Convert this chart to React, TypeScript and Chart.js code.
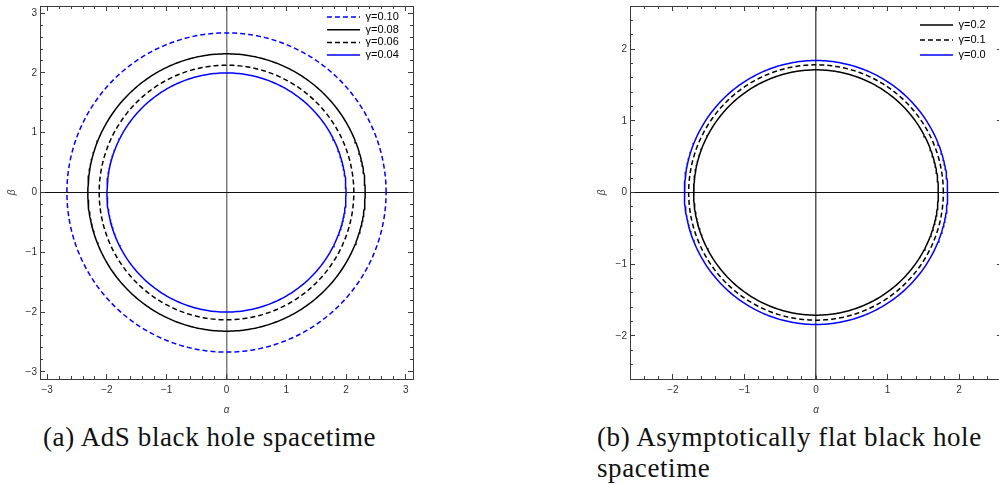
import React, { useEffect, useRef } from "react";
import { Chart, registerables } from "chart.js";

Chart.register(...registerables);

// ---------- data ----------
const leftLabels = ["γ=0.10", "γ=0.08", "γ=0.06", "γ=0.04"];
const leftRadii = [2.67, 2.32, 2.13, 2.0];
const leftColors = ["#0000ff", "#000000", "#000000", "#0000ff"];
const leftDashed = [true, false, true, false];
const leftRange = 3.12;
const leftMajorTicks = [-3, -2, -1, 0, 1, 2, 3];

const rightLabels = ["γ=0.2", "γ=0.1", "γ=0.0"];
const rightRadii = [1.71, 1.78, 1.84];
const rightColors = ["#000000", "#000000", "#0000ff"];
const rightDashed = [false, true, false];
const rightRange = 2.6;
const rightMajorTicks = [-2, -1, 0, 1, 2];

const minorStep = 0.2;
const xTitle = "α";
const yTitle = "β";
const captionA = "(a) AdS black hole spacetime";
const captionB = ["(b) Asymptotically flat black hole", "spacetime"];

// ---------- helpers ----------
const FRAME = "#3a3a3a";
const SANS = "'Liberation Sans', Arial, sans-serif";
const TICKFONT = { family: SANS, size: 10 };

function minorTicks(range: number): number[] {
  const out: number[] = [];
  const n = Math.floor(range / minorStep + 1e-9);
  for (let i = -n; i <= n; i++) out.push(Math.round(i * minorStep * 1000) / 1000);
  return out;
}

function circlePoints(r: number) {
  const N = 360;
  const pts: { x: number; y: number }[] = [];
  for (let i = 0; i <= N; i++) {
    const t = (2 * Math.PI * i) / N;
    pts.push({ x: r * Math.cos(t), y: r * Math.sin(t) });
  }
  return pts;
}

const fmt = (v: any) => {
  const n = Number(v);
  return n < 0 ? "\u2212" + Math.abs(n) : String(n);
};

const zeroPad = (s: any) => {
  s.paddingTop = 0;
  s.paddingBottom = 0;
  s.paddingLeft = 0;
  s.paddingRight = 0;
};

const legendShift = {
  id: "legendShift",
  afterLayout(chart: any, _args: any, opts: any) {
    const lg = chart.legend;
    if (!lg) return;
    const w = lg.width;
    const h = lg.height;
    lg.left = chart.chartArea.left + (opts.x || 0);
    lg.right = lg.left + w;
    lg.top = chart.chartArea.top + (opts.y || 0);
    lg.bottom = lg.top + h;
  },
};

function makeScales(range: number, major: number[], zeroV: string) {
  const minor = minorTicks(range);
  const setTicks = (vals: number[]) => (s: any) => {
    s.ticks = vals.map((v) => ({ value: v }));
  };
  const frameOnly = (pos: string, weight: number, vals: number[], len: number, border: boolean) => ({
    type: "linear",
    position: pos,
    weight,
    min: -range,
    max: range,
    afterBuildTicks: setTicks(vals),
    afterFit: (s: any) => {
      if (pos === "top" || pos === "bottom") s.height = 0;
      else s.width = 0;
      zeroPad(s);
    },
    ticks: { display: false },
    grid: { drawOnChartArea: false, drawTicks: true, tickLength: len, tickColor: FRAME, tickWidth: 1 },
    border: { display: border, color: FRAME, width: 1 },
  });
  return {
    x: {
      type: "linear",
      position: "bottom",
      weight: 0,
      min: -range,
      max: range,
      afterBuildTicks: setTicks(major),
      afterFit: (s: any) => {
        s.height = 41;
        zeroPad(s);
      },
      ticks: { display: true, autoSkip: false, maxRotation: 0, padding: 10, color: "#333", font: TICKFONT, callback: fmt },
      grid: {
        drawOnChartArea: true,
        drawTicks: true,
        tickLength: -5,
        tickColor: FRAME,
        tickWidth: 1,
        color: (c: any) => (c.tick && c.tick.value === 0 ? zeroV : "rgba(0,0,0,0)"),
        lineWidth: (c: any) => (c.tick && c.tick.value === 0 ? 1.5 : 1),
      },
      border: { display: true, color: FRAME, width: 1 },
      title: {
        display: true,
        text: xTitle,
        color: "#444",
        font: { family: SANS, size: 10, style: "italic" },
        padding: { top: 0, bottom: 4 },
      },
    },
    xMinor: frameOnly("bottom", -1, minor, -3, false),
    xTop: frameOnly("top", 0, major, -5, true),
    xTopMinor: frameOnly("top", -1, minor, -3, false),
    y: {
      type: "linear",
      position: "left",
      weight: 0,
      min: -range,
      max: range,
      afterBuildTicks: setTicks(major),
      afterFit: (s: any) => {
        s.width = 40;
        zeroPad(s);
      },
      ticks: { display: true, autoSkip: false, padding: 8, color: "#333", font: TICKFONT, callback: fmt },
      grid: {
        drawOnChartArea: true,
        drawTicks: true,
        tickLength: -5,
        tickColor: FRAME,
        tickWidth: 1,
        color: (c: any) => (c.tick && c.tick.value === 0 ? "#111" : "rgba(0,0,0,0)"),
        lineWidth: 1,
      },
      border: { display: true, color: FRAME, width: 1 },
      title: {
        display: true,
        text: yTitle,
        color: "#444",
        font: { family: SANS, size: 10, style: "italic" },
        padding: { top: 6, bottom: 0 },
      },
    },
    yMinor: frameOnly("left", -1, minor, -3, false),
    yRight: frameOnly("right", 0, major, -5, true),
    yRightMinor: frameOnly("right", -1, minor, -3, false),
  };
}

type PanelProps = {
  labels: string[];
  radii: number[];
  colors: string[];
  dashed: boolean[];
  range: number;
  major: number[];
  zeroV: string;
  padRight: number;
  legendX: number;
  legendY: number;
  legendPad: number;
  left: number;
};

function Panel(p: PanelProps) {
  const ref = useRef<HTMLCanvasElement | null>(null);
  useEffect(() => {
    if (!ref.current) return;
    const datasets = p.labels.map((lab, i) => ({
      label: lab,
      data: circlePoints(p.radii[i]),
      showLine: true,
      borderColor: p.colors[i],
      backgroundColor: p.colors[i],
      borderWidth: 1.5,
      borderDash: p.dashed[i] ? [5, 3] : [],
      pointRadius: 0,
      pointHoverRadius: 0,
      fill: false,
      tension: 0,
    }));
    const chart = new Chart(ref.current, {
      type: "scatter",
      data: { datasets },
      options: {
        animation: false,
        responsive: false,
        maintainAspectRatio: false,
        events: [],
        layout: { padding: { top: 6, right: p.padRight, bottom: 0, left: 0 } },
        scales: makeScales(p.range, p.major, p.zeroV) as any,
        plugins: {
          tooltip: { enabled: false },
          title: { display: false },
          legend: {
            display: true,
            position: "chartArea",
            align: "start",
            labels: {
              usePointStyle: true,
              pointStyle: "line",
              pointStyleWidth: 33,
              boxHeight: 11,
              padding: p.legendPad,
              color: "#333",
              font: { family: SANS, size: 11 },
              generateLabels: (ch: any) =>
                ch.data.datasets.map((ds: any, i: number) => ({
                  text: ds.label,
                  strokeStyle: ds.borderColor,
                  fillStyle: ds.borderColor,
                  lineWidth: 1.5,
                  lineDash: ds.borderDash,
                  lineCap: "butt",
                  pointStyle: "line",
                  hidden: false,
                  datasetIndex: i,
                })),
            },
          },
          legendShift: { x: p.legendX, y: p.legendY },
        } as any,
      },
      plugins: [legendShift as any],
    });
    return () => chart.destroy();
  }, []);
  return (
    <canvas
      ref={ref}
      width={440}
      height={420}
      style={{ position: "absolute", left: p.left, top: 0, width: 440, height: 420 }}
    />
  );
}

export default function App() {
  const capStyle: React.CSSProperties = {
    position: "absolute",
    fontFamily: "'Liberation Serif', 'DejaVu Serif', serif",
    fontSize: 27,
    letterSpacing: "0.6px",
    lineHeight: "31px",
    color: "#111",
    whiteSpace: "nowrap",
  };
  return (
    <div
      style={{
        position: "fixed",
        left: 0,
        top: 0,
        width: 999,
        height: 484,
        overflow: "hidden",
        background: "#fff",
      }}
    >
      <Panel
        labels={leftLabels}
        radii={leftRadii}
        colors={leftColors}
        dashed={leftDashed}
        range={leftRange}
        major={leftMajorTicks}
        zeroV="#808080"
        padRight={27}
        legendX={285.3}
        legendY={3.8}
        legendPad={1.7}
        left={0}
      />
      <Panel
        labels={rightLabels}
        radii={rightRadii}
        colors={rightColors}
        dashed={rightDashed}
        range={rightRange}
        major={rightMajorTicks}
        zeroV="#555"
        padRight={28}
        legendX={286}
        legendY={9.5}
        legendPad={4}
        left={590}
      />
      <div style={{ ...capStyle, left: 43, top: 422 }}>{captionA}</div>
      <div style={{ ...capStyle, left: 597, top: 422 }}>
        {captionB[0]}
        <br />
        {captionB[1]}
      </div>
    </div>
  );
}
